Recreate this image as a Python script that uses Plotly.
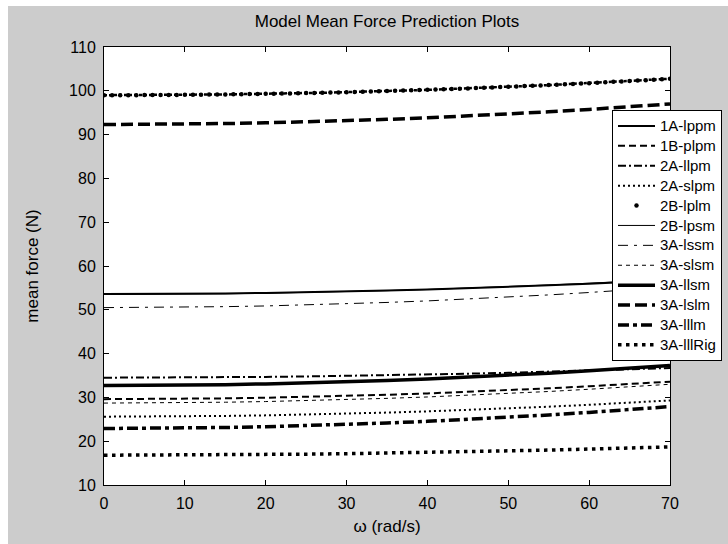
import plotly.graph_objects as go

# ---------------- data ----------------
omega = [0, 5, 10, 15, 20, 25, 30, 35, 40, 45, 50, 55, 60, 65, 70]
omega_fine = list(range(0, 71))

series_names = ["1A-lppm", "1B-plpm", "2A-llpm", "2A-slpm", "2B-lplm", "2B-lpsm",
                "3A-lssm", "3A-slsm", "3A-llsm", "3A-lslm", "3A-lllm", "3A-lllRig"]

f_1A_lppm = [53.60, 53.62, 53.67, 53.75, 53.86, 54.01, 54.19, 54.40, 54.64, 54.92, 55.23, 55.58, 55.95, 56.36, 56.80]
f_1B_plpm = [29.60, 29.62, 29.68, 29.78, 29.93, 30.11, 30.33, 30.60, 30.91, 31.25, 31.64, 32.07, 32.54, 33.05, 33.60]
f_2A_llpm = [34.50, 34.51, 34.54, 34.60, 34.68, 34.78, 34.90, 35.05, 35.22, 35.41, 35.62, 35.86, 36.12, 36.40, 36.70]
f_2A_slpm = [25.60, 25.62, 25.68, 25.77, 25.90, 26.07, 26.28, 26.53, 26.81, 27.13, 27.49, 27.88, 28.32, 28.79, 29.30]
f_2B_lplm = [99.00, 99.00, 99.00, 99.01, 99.01, 99.02, 99.03, 99.04, 99.05, 99.06,
             99.08, 99.09, 99.11, 99.13, 99.15, 99.17, 99.20, 99.22, 99.25, 99.28,
             99.31, 99.34, 99.37, 99.40, 99.44, 99.48, 99.52, 99.56, 99.60, 99.64,
             99.69, 99.74, 99.78, 99.83, 99.88, 99.94, 99.99, 100.05, 100.10, 100.16,
             100.22, 100.29, 100.35, 100.41, 100.48, 100.55, 100.62, 100.69, 100.76, 100.84,
             100.91, 100.99, 101.07, 101.15, 101.23, 101.31, 101.40, 101.49, 101.57, 101.66,
             101.75, 101.85, 101.94, 102.04, 102.13, 102.23, 102.33, 102.43, 102.54, 102.64,
             102.75]
f_2B_lpsm = [53.50, 53.52, 53.57, 53.66, 53.79, 53.95, 54.14, 54.38, 54.64, 54.95, 55.29, 55.66, 56.07, 56.52, 57.00]
f_3A_lssm = [50.50, 50.52, 50.60, 50.72, 50.88, 51.10, 51.36, 51.68, 52.03, 52.44, 52.90, 53.40, 53.95, 54.55, 55.20]
f_3A_slsm = [28.70, 28.72, 28.79, 28.90, 29.05, 29.25, 29.49, 29.78, 30.10, 30.48, 30.89, 31.35, 31.86, 32.41, 33.00]
f_3A_llsm = [32.70, 32.72, 32.79, 32.91, 33.08, 33.29, 33.55, 33.85, 34.20, 34.60, 35.05, 35.54, 36.08, 36.67, 37.30]
f_3A_lslm = [92.30, 92.32, 92.40, 92.52, 92.68, 92.90, 93.16, 93.48, 93.83, 94.24, 94.70, 95.20, 95.75, 96.35, 97.00]
f_3A_lllm = [22.90, 22.93, 23.00, 23.13, 23.31, 23.54, 23.82, 24.15, 24.53, 24.97, 25.45, 25.99, 26.57, 27.21, 27.90]
f_3A_lllRig = [16.80, 16.81, 16.84, 16.89, 16.96, 17.04, 17.15, 17.28, 17.42, 17.59, 17.77, 17.97, 18.20, 18.44, 18.70]

x_ticks = [0, 10, 20, 30, 40, 50, 60, 70]
y_ticks = [10, 20, 30, 40, 50, 60, 70, 80, 90, 100, 110]

title_text = "Model Mean Force Prediction Plots"
x_title = "ω (rad/s)"
y_title = "mean force (N)"

# ---------------- styles ----------------
FONT = "Liberation Sans, Arial, Helvetica, sans-serif"
styles = {
    "1A-lppm":   dict(width=2.0, dash="solid"),
    "1B-plpm":   dict(width=2.0, dash="7px,4px"),
    "2A-llpm":   dict(width=2.0, dash="8px,3px,2px,3px"),
    "2A-slpm":   dict(width=2.0, dash="2px,3px"),
    "2B-lpsm":   dict(width=1.0, dash="solid"),
    "3A-lssm":   dict(width=1.0, dash="10px,6px,3px,6px"),
    "3A-slsm":   dict(width=1.0, dash="4px,4px"),
    "3A-llsm":   dict(width=3.5, dash="solid"),
    "3A-lslm":   dict(width=3.5, dash="12px,5px"),
    "3A-lllm":   dict(width=3.5, dash="11px,4px,4px,4px"),
    "3A-lllRig": dict(width=3.5, dash="3.5px,4.5px"),
}
values = {
    "1A-lppm": f_1A_lppm, "1B-plpm": f_1B_plpm, "2A-llpm": f_2A_llpm,
    "2A-slpm": f_2A_slpm, "2B-lpsm": f_2B_lpsm, "3A-lssm": f_3A_lssm,
    "3A-slsm": f_3A_slsm, "3A-llsm": f_3A_llsm, "3A-lslm": f_3A_lslm,
    "3A-lllm": f_3A_lllm, "3A-lllRig": f_3A_lllRig,
}

def legend_label(s):
    return '<span style="font-size:15px">' + s + '</span>'

fig = go.Figure()
for name in series_names:
    if name == "2B-lplm":
        fig.add_trace(go.Scatter(x=omega_fine, y=f_2B_lplm, mode="lines",
                                 line=dict(color="black", width=2.5, dash="3px,2px"),
                                 showlegend=False, hoverinfo="skip"))
        fig.add_trace(go.Scatter(x=omega_fine, y=f_2B_lplm, mode="markers",
                                 marker=dict(color="black", size=4.5, symbol="circle"),
                                 name=legend_label(name)))
    else:
        st = styles[name]
        fig.add_trace(go.Scatter(x=omega, y=values[name], mode="lines",
                                 line=dict(color="black", width=st["width"], dash=st["dash"]),
                                 name=legend_label(name)))

W, H = 728, 544
ml, mr, mt, mb = 104, 58, 47, 59
pw, ph = W - ml - mr, H - mt - mb

def px_x(p):
    return (p - ml) / pw

def px_y(p):
    return (H - mb - p) / ph

shapes = [
    dict(type="rect", xref="paper", yref="paper", x0=px_x(0), x1=px_x(W), y0=px_y(6), y1=px_y(0),
         fillcolor="white", line=dict(width=0), layer="below"),
    dict(type="rect", xref="paper", yref="paper", x0=px_x(0), x1=px_x(8), y0=px_y(H), y1=px_y(0),
         fillcolor="white", line=dict(width=0), layer="below"),
]

axis_common = dict(showline=True, linecolor="black", linewidth=1, mirror="ticks",
                   ticks="inside", ticklen=5, tickcolor="black", tickwidth=1,
                   showgrid=False, zeroline=False,
                   tickfont=dict(family=FONT, size=16, color="black"))

fig.update_layout(
    width=W, height=H,
    margin=dict(l=ml, r=mr, t=mt, b=mb, autoexpand=False),
    paper_bgcolor="#cccccc", plot_bgcolor="white",
    font=dict(family=FONT, color="black"),
    title=dict(text=title_text, x=px_x(387), xref="paper", xanchor="center",
               y=1 - 21 / H, yref="container", yanchor="middle",
               font=dict(family=FONT, size=17, color="black")),
    xaxis=dict(range=[0, 70], tickvals=x_ticks, ticktext=[str(v) for v in x_ticks],
               title=dict(text=x_title, font=dict(family=FONT, size=17), standoff=8),
               ticklabelstandoff=4, **axis_common),
    yaxis=dict(range=[10, 110], tickvals=y_ticks, ticktext=[str(v) for v in y_ticks],
               title=dict(text=y_title, font=dict(family=FONT, size=17), standoff=26),
               ticklabelstandoff=4, **axis_common),
    legend=dict(x=px_x(612), y=px_y(110), xanchor="left", yanchor="top",
                bgcolor="white", bordercolor="black", borderwidth=1,
                font=dict(family=FONT, size=13, color="black"),
                itemwidth=37, tracegroupgap=0),
    shapes=shapes,
    showlegend=True,
)

fig.write_html("out.html")
